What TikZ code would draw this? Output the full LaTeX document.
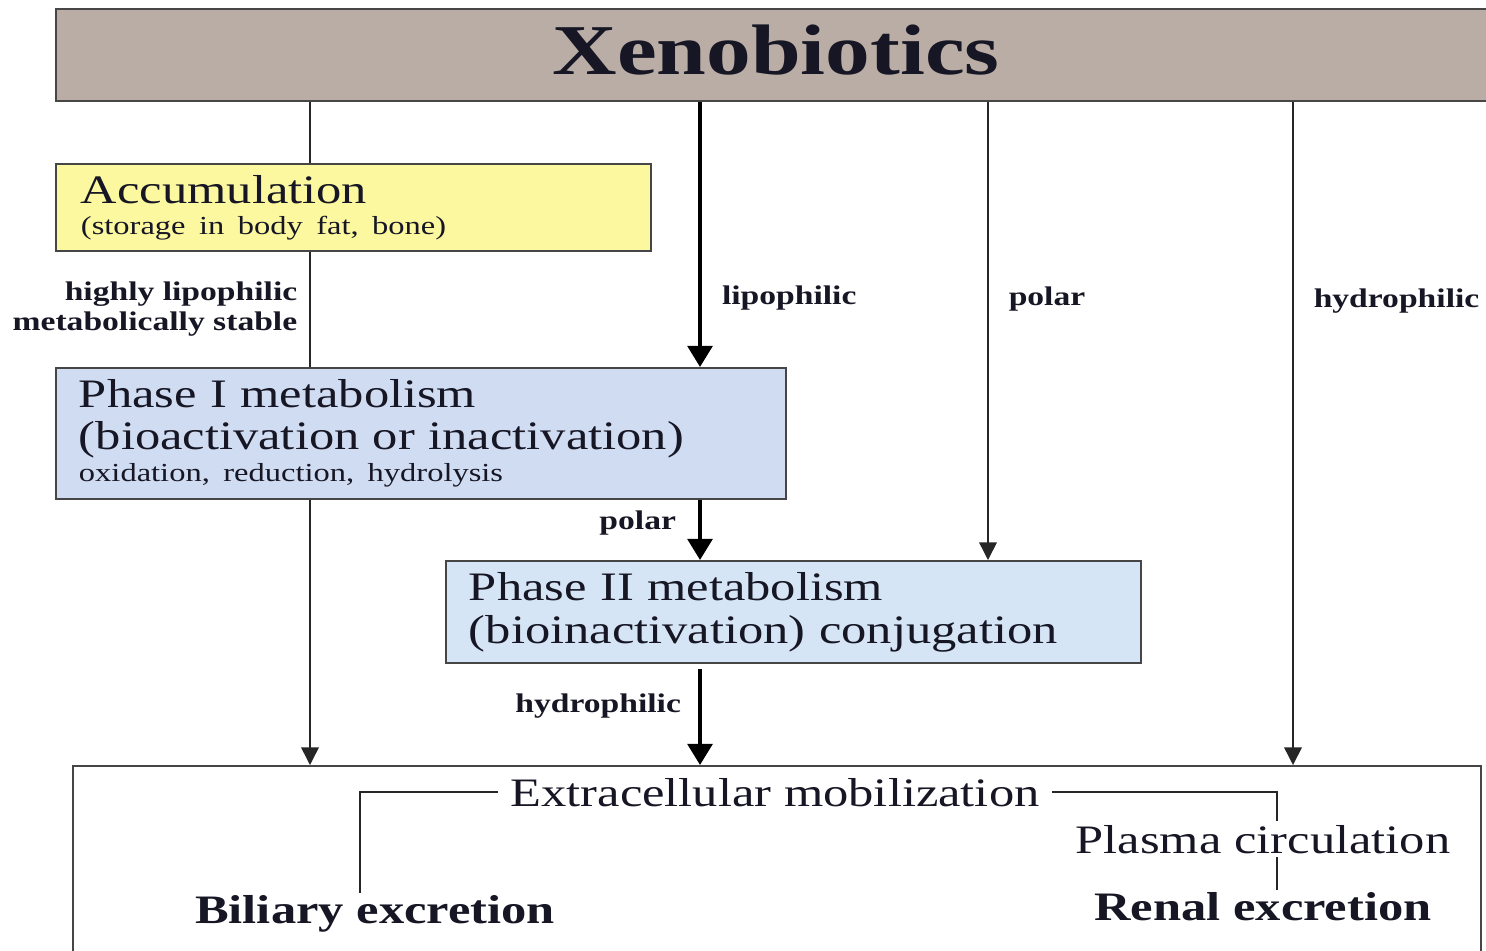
\documentclass[tikz,border=0pt]{standalone}
\usepackage{fontspec}
\setmainfont{Liberation Serif}[FakeStretch=1.25]
\usetikzlibrary{arrows.meta,positioning}

\definecolor{barfill}{RGB}{186,173,165}
\definecolor{accfill}{RGB}{252,248,160}
\definecolor{phonefill}{RGB}{208,220,242}
\definecolor{phtwofill}{RGB}{214,229,245}
\definecolor{inkdark}{RGB}{22,22,36}
\definecolor{edgegray}{RGB}{70,70,70}

\newcommand\titletxt{\bfseries\fontsize{40.7}{44}\selectfont}
\newcommand\bigtxt{\fontsize{23}{24}\selectfont}
\newcommand\smalltxt{\fontsize{14.8}{18}\selectfont}
\newcommand\lbltxt{\bfseries\fontsize{15.3}{17}\selectfont}

\tikzset{
  phasebox/.style={draw=edgegray, line width=1.1pt, anchor=north west, align=left,
    inner ysep=0pt, text=inkdark, font=\bigtxt},
  thinline/.style={line width=0.85pt, draw=black!85},
  thinarrow/.style={thinline, -{Triangle[width=10pt,length=10pt]}},
  thickarrow/.style={line width=2.3pt, draw=black, -{Triangle[width=14pt,length=12pt]}},
  lbl/.style={font=\lbltxt, text=inkdark, inner sep=0pt, align=right},
  plaintxt/.style={font=\bigtxt, text=inkdark, anchor=base, inner sep=1pt}
}

\begin{document}
\begin{tikzpicture}[x=0.02cm, y=-0.02cm]
\fill[white] (0,0) rectangle (1486,950);
\useasboundingbox (0,0) rectangle (1486,950);

% columns of the connectors
\coordinate (c1) at (310,0);
\coordinate (c2) at (700,0);
\coordinate (c3) at (988,0);
\coordinate (c4) at (1293,0);

\node[phasebox, fill=barfill, line width=1.4pt, minimum width=28.8cm, minimum height=1.84cm,
  align=center, font=\titletxt, text depth=6pt] (xeno) at (55,8) {Xenobiotics};
\node[phasebox, fill=accfill, text width=10.9cm, inner xsep=0.5cm, minimum height=1.74cm] (acc) at (55,163)
  {Accumulation\\[-6.4pt]{\smalltxt (storage in body fat, bone)}};
\node[phasebox, fill=phonefill, text width=13.68cm, inner xsep=0.46cm, minimum height=2.62cm] (ph1) at (55,367)
  {Phase I metabolism\\(bioactivation or inactivation)\\[-5.8pt]{\smalltxt oxidation, reduction, hydrolysis}};
\node[phasebox, fill=phtwofill, text width=12.98cm, inner xsep=0.46cm, minimum height=2.04cm] (ph2) at (445,560)
  {Phase II metabolism\\[0.5pt](bioinactivation) conjugation};
\node[phasebox, fill=white, minimum width=28.16cm, minimum height=4cm] (mob) at (72,765) {};

% connectors
\draw[thinline] (xeno.south -| c1) -- (acc.north -| c1);
\draw[thinline] (acc.south -| c1) -- node[lbl, left=0.24cm] {highly lipophilic\\metabolically stable} (ph1.north -| c1);
\draw[thinarrow] (ph1.south -| c1) -- (mob.north -| c1);
\draw[thickarrow] (xeno.south -| c2) -- node[lbl, pos=0.74, right=0.4cm] {lipophilic} (ph1.north -| c2);
\draw[thickarrow] (ph1.south -| c2) -- node[lbl, pos=0.38, left=0.44cm] {polar} (ph2.north -| c2);
\draw[thickarrow, shorten <=3pt] (ph2.south -| c2) -- node[lbl, pos=0.42, left=0.34cm] {hydrophilic} (mob.north -| c2);
\draw[thinarrow] (xeno.south -| c3) -- node[lbl, pos=0.43, right=0.4cm] {polar} (ph2.north -| c3);
\draw[thinarrow] (xeno.south -| c4) -- node[lbl, pos=0.30, right=0.4cm] {hydrophilic} (mob.north -| c4);

% excretion routes
\node[plaintxt, inner xsep=7pt] (ext) at (775,806) {Extracellular mobilization};
\node[plaintxt, font=\bigtxt\bfseries] (bil) at (375,923) {Biliary excretion};
\node[plaintxt, font=\bigtxt\bfseries] (ren) at (1263,920) {Renal excretion};
\draw[thinline] (ext.west) -| ([xshift=-0.3cm]bil.north);
\draw[thinline] (ext.east) -| ([xshift=0.28cm]ren.north);
\node[plaintxt, fill=white, inner sep=2pt] (pla) at (1263,853) {Plasma circulation};
\end{tikzpicture}
\end{document}
